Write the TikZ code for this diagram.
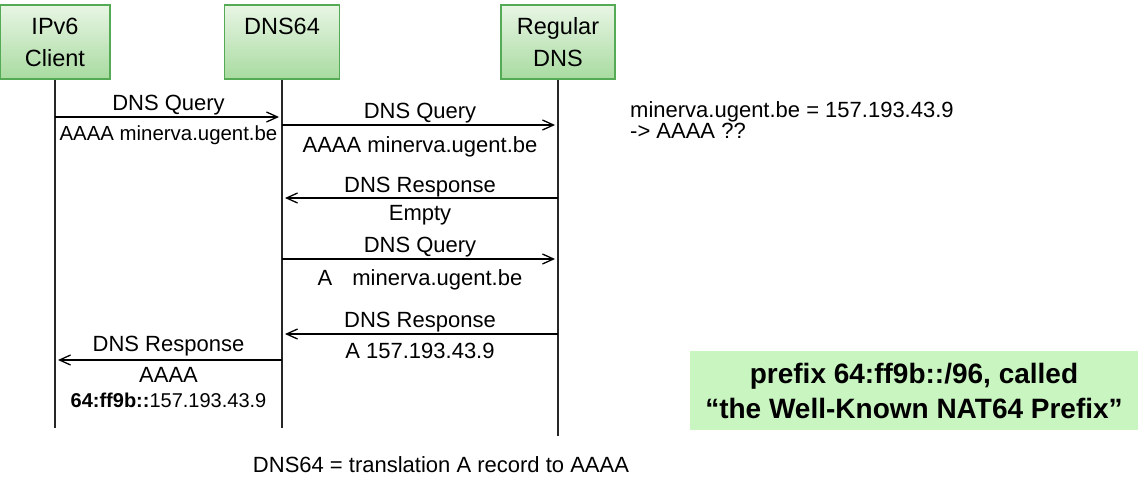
\documentclass[tikz,border=0pt]{standalone}
\usepackage{fontspec}
\setmainfont{Liberation Sans}
\usepackage{xcolor}
\usepackage{tikz}
\usetikzlibrary{arrows.meta}
\definecolor{boxtop}{HTML}{E8F5E4}
\definecolor{boxbottom}{HTML}{A8DBA0}
\definecolor{boxedge}{HTML}{55AA55}
\definecolor{prefixgreen}{HTML}{C9F5C1}

\begin{document}
\begin{tikzpicture}[x=1pt, y=-1pt,
  actor/.style={draw=boxedge, line width=1.5pt, top color=boxtop, bottom color=boxbottom, minimum height=74pt, inner sep=0pt, align=center, font=\fontsize{23.5}{32}\selectfont},
  life/.style={line width=1.3pt, black!85},
  msg/.style={-{Straight Barb[length=11pt,width=10pt]}, line width=1.3pt, shorten >=3pt},
  lbl/.style={inner sep=0pt, font=\fontsize{22}{25}\selectfont}
]
  \useasboundingbox (0,0) rectangle (1138,487);

  \node[actor, minimum width=110pt] (client) at (55,42) {IPv6\\Client};
  \node[actor, minimum width=115pt] (dns64) at (282,42) {DNS64\\\phantom{I}};
  \node[actor, minimum width=114pt] (regular) at (558,42) {Regular\\DNS};

  \coordinate (clientEnd) at (55,428);
  \coordinate (dns64End) at (282,428);
  \coordinate (regularEnd) at (558,436);
  \draw[life] (client) -- (clientEnd);
  \draw[life] (dns64) -- (dns64End);
  \draw[life] (regular) -- (regularEnd);

  \draw[msg] (client |- 0,117) -- node[lbl, above=1pt] {DNS Query}
    node[lbl, below=8pt, font=\fontsize{20.4}{24}\selectfont] {AAAA minerva.ugent.be} (dns64 |- 0,117);
  \draw[msg] (dns64 |- 0,125) -- node[lbl, above=1pt] {DNS Query}
    node[lbl, below=11pt] {AAAA minerva.ugent.be} (regular |- 0,125);
  \draw[msg] (regular |- 0,198) -- node[lbl, above=0pt] {DNS Response}
    node[lbl, below=7pt] {Empty} (dns64 |- 0,198);
  \draw[msg] (dns64 |- 0,259) -- node[lbl, above=1pt] {DNS Query}
    node[lbl, below=10pt] {A\hspace{20pt}minerva.ugent.be} (regular |- 0,259);
  \draw[msg] (regular |- 0,334) -- node[lbl, above=1pt] {DNS Response}
    node[lbl, below=8pt] {A 157.193.43.9} (dns64 |- 0,334);
  \draw[msg] (dns64 |- 0,360) -- node[lbl, above=3pt] {DNS Response}
    node[lbl, below=7pt, align=center] {AAAA\\\fontsize{20}{25}\selectfont\textbf{64:ff9b::}157.193.43.9} (client |- 0,360);

  \node[lbl, align=left, anchor=north west, font=\fontsize{22}{21}\selectfont] (lookup) at (630,101)
    {minerva.ugent.be = 157.193.43.9\\-> AAAA ??};
  \node[fill=prefixgreen, minimum width=448pt, minimum height=79pt, align=center,
    font=\fontsize{28}{35}\selectfont\bfseries] (prefix) at (914,390.5)
    {prefix 64:ff9b::/96, called\\“the Well-Known NAT64 Prefix”};
  \node[lbl] (caption) at (441,465) {DNS64 = translation A record to AAAA};
\end{tikzpicture}
\end{document}
